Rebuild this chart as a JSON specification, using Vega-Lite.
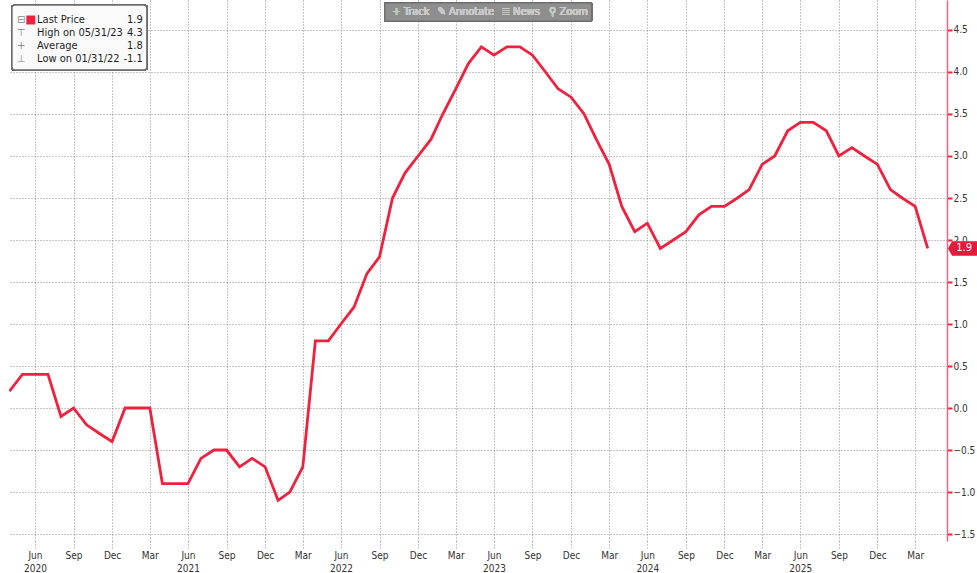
{
  "$schema": "https://vega.github.io/schema/vega-lite/v6.json",
  "width": 938,
  "height": 541,
  "autosize": "none",
  "padding": {"left": 9, "top": 0, "right": 30, "bottom": 32},
  "background": "white",
  "config": {"view": {"stroke": null}, "font": "DejaVu Sans Condensed"},
  "data": {
    "values": [
      {"date": "2020-04-30", "value": 0.2}, {"date": "2020-05-31", "value": 0.4}, {"date": "2020-06-30", "value": 0.4},
      {"date": "2020-07-31", "value": 0.4}, {"date": "2020-08-31", "value": -0.1}, {"date": "2020-09-30", "value": 0.0},
      {"date": "2020-10-31", "value": -0.2}, {"date": "2020-11-30", "value": -0.3}, {"date": "2020-12-31", "value": -0.4},
      {"date": "2021-01-31", "value": 0.0}, {"date": "2021-02-28", "value": 0.0}, {"date": "2021-03-31", "value": 0.0},
      {"date": "2021-04-30", "value": -0.9}, {"date": "2021-05-31", "value": -0.9}, {"date": "2021-06-30", "value": -0.9},
      {"date": "2021-07-31", "value": -0.6}, {"date": "2021-08-31", "value": -0.5}, {"date": "2021-09-30", "value": -0.5},
      {"date": "2021-10-31", "value": -0.7}, {"date": "2021-11-30", "value": -0.6}, {"date": "2021-12-31", "value": -0.7},
      {"date": "2022-01-31", "value": -1.1}, {"date": "2022-02-28", "value": -1.0}, {"date": "2022-03-31", "value": -0.7},
      {"date": "2022-04-30", "value": 0.8}, {"date": "2022-05-31", "value": 0.8}, {"date": "2022-06-30", "value": 1.0},
      {"date": "2022-07-31", "value": 1.2}, {"date": "2022-08-31", "value": 1.6}, {"date": "2022-09-30", "value": 1.8},
      {"date": "2022-10-31", "value": 2.5}, {"date": "2022-11-30", "value": 2.8}, {"date": "2022-12-31", "value": 3.0},
      {"date": "2023-01-31", "value": 3.2}, {"date": "2023-02-28", "value": 3.5}, {"date": "2023-03-31", "value": 3.8},
      {"date": "2023-04-30", "value": 4.1}, {"date": "2023-05-31", "value": 4.3}, {"date": "2023-06-30", "value": 4.2},
      {"date": "2023-07-31", "value": 4.3}, {"date": "2023-08-31", "value": 4.3}, {"date": "2023-09-30", "value": 4.2},
      {"date": "2023-10-31", "value": 4.0}, {"date": "2023-11-30", "value": 3.8}, {"date": "2023-12-31", "value": 3.7},
      {"date": "2024-01-31", "value": 3.5}, {"date": "2024-02-29", "value": 3.2}, {"date": "2024-03-31", "value": 2.9},
      {"date": "2024-04-30", "value": 2.4}, {"date": "2024-05-31", "value": 2.1}, {"date": "2024-06-30", "value": 2.2},
      {"date": "2024-07-31", "value": 1.9}, {"date": "2024-08-31", "value": 2.0}, {"date": "2024-09-30", "value": 2.1},
      {"date": "2024-10-31", "value": 2.3}, {"date": "2024-11-30", "value": 2.4}, {"date": "2024-12-31", "value": 2.4},
      {"date": "2025-01-31", "value": 2.5}, {"date": "2025-02-28", "value": 2.6}, {"date": "2025-03-31", "value": 2.9},
      {"date": "2025-04-30", "value": 3.0}, {"date": "2025-05-31", "value": 3.3}, {"date": "2025-06-30", "value": 3.4},
      {"date": "2025-07-31", "value": 3.4}, {"date": "2025-08-31", "value": 3.3}, {"date": "2025-09-30", "value": 3.0},
      {"date": "2025-10-31", "value": 3.1}, {"date": "2025-11-30", "value": 3.0}, {"date": "2025-12-31", "value": 2.9},
      {"date": "2026-01-31", "value": 2.6}, {"date": "2026-02-28", "value": 2.5}, {"date": "2026-03-31", "value": 2.4},
      {"date": "2026-04-30", "value": 1.9}
    ]
  },
  "layer": [
    {
      "layer": [
        {
          "mark": {"type": "line", "color": "#f0203f", "strokeWidth": 2.8, "clip": true},
          "encoding": {
            "x": {
              "field": "date", "type": "temporal",
              "scale": {"type": "utc", "domain": [{"year": 2020, "month": 4, "date": 29, "utc": true}, {"year": 2026, "month": 6, "date": 15, "utc": true}]},
              "axis": {
                "title": null,
                "orient": "bottom",
                "domain": false,
                "values": [
                  {"year": 2020, "month": 6, "date": 30, "utc": true}, {"year": 2020, "month": 9, "date": 30, "utc": true}, {"year": 2020, "month": 12, "date": 31, "utc": true},
                  {"year": 2021, "month": 3, "date": 31, "utc": true}, {"year": 2021, "month": 6, "date": 30, "utc": true}, {"year": 2021, "month": 9, "date": 30, "utc": true}, {"year": 2021, "month": 12, "date": 31, "utc": true},
                  {"year": 2022, "month": 3, "date": 31, "utc": true}, {"year": 2022, "month": 6, "date": 30, "utc": true}, {"year": 2022, "month": 9, "date": 30, "utc": true}, {"year": 2022, "month": 12, "date": 31, "utc": true},
                  {"year": 2023, "month": 3, "date": 31, "utc": true}, {"year": 2023, "month": 6, "date": 30, "utc": true}, {"year": 2023, "month": 9, "date": 30, "utc": true}, {"year": 2023, "month": 12, "date": 31, "utc": true},
                  {"year": 2024, "month": 3, "date": 31, "utc": true}, {"year": 2024, "month": 6, "date": 30, "utc": true}, {"year": 2024, "month": 9, "date": 30, "utc": true}, {"year": 2024, "month": 12, "date": 31, "utc": true},
                  {"year": 2025, "month": 3, "date": 31, "utc": true}, {"year": 2025, "month": 6, "date": 30, "utc": true}, {"year": 2025, "month": 9, "date": 30, "utc": true}, {"year": 2025, "month": 12, "date": 31, "utc": true},
                  {"year": 2026, "month": 3, "date": 31, "utc": true}
                ],
                "labelExpr": "utcFormat(datum.value, '%m') == '06' ? [utcFormat(datum.value, '%b'), utcFormat(datum.value, '%Y')] : utcFormat(datum.value, '%b')",
                "labelFont": "DejaVu Sans Condensed",
                "labelFontSize": 10,
                "labelColor": "#333333",
                "labelLineHeight": 13,
                "labelPadding": 2,
                "labelFlush": false,
                "labelOverlap": false,
                "grid": true,
                "gridColor": "#8f8f8f",
                "gridDash": [1, 2],
                "gridWidth": 1,
                "ticks": true,
                "tickColor": "#8f8f8f",
                "tickDash": [1, 2],
                "tickSize": 7
              }
            },
            "y": {
              "field": "value", "type": "quantitative",
              "scale": {"domain": [-1.583, 4.857], "nice": false, "zero": false},
              "axis": {
                "title": null,
                "orient": "right",
                "values": [-1.5, -1.25, -1, -0.75, -0.5, -0.25, 0, 0.25, 0.5, 0.75, 1, 1.25, 1.5, 1.75, 2, 2.25, 2.5, 2.75, 3, 3.25, 3.5, 3.75, 4, 4.25, 4.5, 4.75],
                "labelExpr": "abs(datum.value * 2 - round(datum.value * 2)) < 0.001 ? format(datum.value, '.1f') : ''",
                "labelFont": "DejaVu Sans Condensed",
                "labelFontSize": 10,
                "labelColor": "#333333",
                "labelPadding": 1,
                "labelFlush": false,
                "labelOverlap": false,
                "domain": true,
                "domainColor": "#f2657c",
                "domainWidth": 1.5,
                "ticks": true,
                "tickColor": "#f0203f",
                "tickSize": {"condition": {"test": "abs(datum.value * 2 - round(datum.value * 2)) < 0.001", "value": 5}, "value": 3},
                "tickWidth": {"condition": {"test": "abs(datum.value * 2 - round(datum.value * 2)) < 0.001", "value": 2}, "value": 1},
                "grid": true,
                "gridColor": "#8f8f8f",
                "gridDash": [1, 2],
                "gridWidth": 1,
                "gridOpacity": {"condition": {"test": "abs(datum.value * 2 - round(datum.value * 2)) < 0.001", "value": 1}, "value": 0}
              }
            }
          }
        },
        {
          "transform": [
            {"window": [{"op": "row_number", "as": "rn"}], "sort": [{"field": "date", "order": "descending"}]},
            {"filter": "datum.rn == 1"}
          ],
          "mark": {"type": "point", "shape": "M -1 0 L -0.72 -0.5 L 1 -0.5 L 1 0.5 L -0.72 0.5 Z", "size": 841, "filled": true, "color": "#e8173c", "opacity": 1, "clip": false},
          "encoding": {
            "x": {"datum": {"year": 2026, "month": 7, "date": 22, "utc": true}, "type": "temporal"},
            "y": {"field": "value", "type": "quantitative"}
          }
        },
        {
          "transform": [
            {"window": [{"op": "row_number", "as": "rn"}], "sort": [{"field": "date", "order": "descending"}]},
            {"filter": "datum.rn == 1"}
          ],
          "mark": {"type": "text", "color": "white", "fontSize": 11, "font": "DejaVu Sans Condensed", "align": "center", "baseline": "middle", "clip": false},
          "encoding": {
            "x": {"datum": {"year": 2026, "month": 7, "date": 26, "utc": true}, "type": "temporal"},
            "y": {"field": "value", "type": "quantitative"},
            "text": {"field": "value", "type": "quantitative", "format": ".1f"}
          }
        },
        {
          "mark": {"type": "rect", "fill": "#fafafa", "fillOpacity": 0.95, "stroke": "#6e6e6e", "strokeWidth": 1.5, "cornerRadius": 3},
          "encoding": {
            "x": {"datum": {"year": 2020, "month": 5, "date": 6, "utc": true}, "type": "temporal"},
            "x2": {"datum": {"year": 2021, "month": 3, "date": 24, "utc": true}},
            "y": {"datum": 4.798, "type": "quantitative"},
            "y2": {"datum": 4.024}
          }
        },
        {
          "mark": {"type": "rect", "fill": "#8e8e8e", "stroke": "#6f6f6f", "strokeWidth": 1},
          "encoding": {
            "x": {"datum": {"year": 2022, "month": 10, "date": 13, "utc": true}, "type": "temporal"},
            "x2": {"datum": {"year": 2024, "month": 2, "date": 18, "utc": true}},
            "y": {"datum": 4.821, "type": "quantitative"},
            "y2": {"datum": 4.607}
          }
        },
        {
          "mark": {"type": "text", "text": "+ Track", "color": "#c9c9c9", "fontSize": 11, "font": "DejaVu Sans Condensed", "align": "center", "baseline": "middle"},
          "encoding": {
            "x": {"datum": {"year": 2022, "month": 12, "date": 14, "utc": true}, "type": "temporal"},
            "y": {"datum": 4.714, "type": "quantitative"}
          }
        },
        {
          "mark": {"type": "text", "text": "✎ Annotate", "color": "#c9c9c9", "fontSize": 11, "font": "DejaVu Sans Condensed", "align": "center", "baseline": "middle"},
          "encoding": {
            "x": {"datum": {"year": 2023, "month": 4, "date": 24, "utc": true}, "type": "temporal"},
            "y": {"datum": 4.714, "type": "quantitative"}
          }
        },
        {
          "mark": {"type": "text", "text": "≣ News", "color": "#c9c9c9", "fontSize": 11, "font": "DejaVu Sans Condensed", "align": "center", "baseline": "middle"},
          "encoding": {
            "x": {"datum": {"year": 2023, "month": 9, "date": 2, "utc": true}, "type": "temporal"},
            "y": {"datum": 4.714, "type": "quantitative"}
          }
        },
        {
          "mark": {"type": "text", "text": "⚲ Zoom", "color": "#c9c9c9", "fontSize": 11, "font": "DejaVu Sans Condensed", "align": "center", "baseline": "middle"},
          "encoding": {
            "x": {"datum": {"year": 2023, "month": 12, "date": 25, "utc": true}, "type": "temporal"},
            "y": {"datum": 4.714, "type": "quantitative"}
          }
        }
      ]
    },
    {
      "data": {
        "values": [
          {"item": "Last Price", "stat": "1.9", "icon": "⊟"},
          {"item": "High on 05/31/23", "stat": "4.3", "icon": "⊤"},
          {"item": "Average", "stat": "1.8", "icon": "+"},
          {"item": "Low on 01/31/22", "stat": "-1.1", "icon": "⊥"}
        ]
      },
      "encoding": {
        "y": {
          "field": "item", "type": "nominal", "axis": null,
          "scale": {"type": "point", "domain": ["Last Price", "High on 05/31/23", "Average", "Low on 01/31/22"], "range": [20, 59], "padding": 0}
        }
      },
      "layer": [
        {
          "mark": {"type": "text", "color": "#8a8a8a", "fontSize": 10, "font": "DejaVu Sans", "align": "center", "baseline": "middle"},
          "encoding": {
            "x": {"datum": {"year": 2020, "month": 5, "date": 28, "utc": true}, "type": "temporal"},
            "text": {"field": "icon"}
          }
        },
        {
          "transform": [{"filter": "datum.item == 'Last Price'"}],
          "mark": {"type": "square", "color": "#f0203f", "size": 80, "filled": true, "opacity": 1},
          "encoding": {
            "x": {"datum": {"year": 2020, "month": 6, "date": 20, "utc": true}, "type": "temporal"}
          }
        },
        {
          "mark": {"type": "text", "color": "#1e1e1e", "fontSize": 11, "font": "DejaVu Sans Condensed", "align": "left", "baseline": "middle"},
          "encoding": {
            "x": {"datum": {"year": 2020, "month": 7, "date": 5, "utc": true}, "type": "temporal"},
            "text": {"field": "item"}
          }
        },
        {
          "mark": {"type": "text", "color": "#1e1e1e", "fontSize": 11, "font": "DejaVu Sans Condensed", "align": "right", "baseline": "middle"},
          "encoding": {
            "x": {"datum": {"year": 2021, "month": 3, "date": 14, "utc": true}, "type": "temporal"},
            "text": {"field": "stat"}
          }
        }
      ]
    }
  ],
  "resolve": {"scale": {"y": "independent"}}
}
